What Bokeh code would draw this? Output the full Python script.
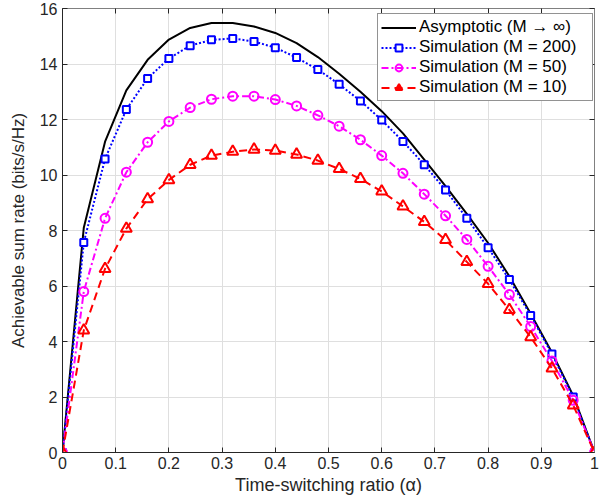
from bokeh.plotting import figure
from bokeh.models import Range1d, FixedTicker, LinearAxis, Legend, LegendItem, CustomJSTickFormatter
from bokeh.embed import file_html
from bokeh.resources import INLINE

alpha = [0, 0.04, 0.08, 0.12, 0.16, 0.2, 0.24, 0.28, 0.32, 0.36, 0.4, 0.44, 0.48,
         0.52, 0.56, 0.6, 0.64, 0.68, 0.72, 0.76, 0.8, 0.84, 0.88, 0.92, 0.96, 1]
rate_asym = [0, 8.1, 11.2, 13.05, 14.15, 14.88, 15.3, 15.48, 15.48, 15.35, 15.12, 14.75, 14.25,
             13.65, 13.0, 12.3, 11.5, 10.55, 9.6, 8.6, 7.55, 6.35, 5.0, 3.6, 2.05, 0]
rate_m200 = [0, 7.57, 10.58, 12.36, 13.48, 14.2, 14.66, 14.87, 14.92, 14.81, 14.59, 14.23, 13.8,
             13.27, 12.67, 11.98, 11.21, 10.37, 9.46, 8.44, 7.38, 6.23, 4.94, 3.55, 2.0, 0]
rate_m50 = [0, 5.8, 8.44, 10.1, 11.18, 11.93, 12.43, 12.73, 12.84, 12.84, 12.72, 12.49, 12.15,
            11.76, 11.27, 10.7, 10.06, 9.31, 8.53, 7.68, 6.71, 5.69, 4.54, 3.3, 1.88, 0]
rate_m10 = [0, 4.4, 6.62, 8.07, 9.13, 9.82, 10.37, 10.7, 10.84, 10.92, 10.88, 10.74, 10.52,
            10.22, 9.86, 9.41, 8.87, 8.31, 7.66, 6.87, 6.08, 5.14, 4.16, 3.03, 1.7, 0]

x_ticks = [0, 0.1, 0.2, 0.3, 0.4, 0.5, 0.6, 0.7, 0.8, 0.9, 1]
x_tick_labels = ["0", "0.1", "0.2", "0.3", "0.4", "0.5", "0.6", "0.7", "0.8", "0.9", "1"]
y_ticks = [0, 2, 4, 6, 8, 10, 12, 14, 16]

labels = ["Asymptotic (M \u2192 \u221e)", "Simulation (M = 200)",
          "Simulation (M = 50)", "Simulation (M = 10)"]

FONT = "Liberation Sans"
AX = "#262626"

p = figure(width=608, height=497, output_backend="svg", toolbar_location=None,
           x_range=Range1d(0, 1), y_range=Range1d(0, 16),
           min_border_left=62, min_border_right=14, min_border_top=8, min_border_bottom=45)
p.outline_line_color = None

for ax in (p.xaxis[0], p.yaxis[0]):
    ax.major_tick_in = 5
    ax.major_tick_out = 0
    ax.minor_tick_in = 0
    ax.minor_tick_out = 0
    ax.axis_line_color = AX
    ax.major_tick_line_color = AX
    ax.major_label_text_font = FONT
    ax.major_label_text_font_size = "16px"
    ax.major_label_text_color = AX
    ax.axis_label_text_font = FONT
    ax.axis_label_text_font_style = "normal"
    ax.axis_label_text_color = AX

p.xaxis.axis_label_text_font_size = "18px"
p.yaxis.axis_label_text_font_size = "17px"
p.xaxis.ticker = FixedTicker(ticks=x_ticks)
p.xaxis.major_label_overrides = {t: l for t, l in zip(x_ticks, x_tick_labels)}
p.yaxis.ticker = FixedTicker(ticks=y_ticks)
p.xaxis.axis_label = "Time-switching ratio (\u03b1)"
p.yaxis.axis_label = "Achievable sum rate (bits/s/Hz)"
p.xaxis.major_label_standoff = 4
p.yaxis.major_label_standoff = 5
p.xaxis.axis_label_standoff = 3
p.yaxis.axis_label_standoff = 9

blank = CustomJSTickFormatter(code="return ''")
top = LinearAxis(ticker=FixedTicker(ticks=x_ticks), formatter=blank)
right = LinearAxis(ticker=FixedTicker(ticks=y_ticks), formatter=blank)
for ax in (top, right):
    ax.major_tick_in = 5
    ax.major_tick_out = 0
    ax.minor_tick_in = 0
    ax.minor_tick_out = 0
    ax.axis_line_color = "#808080"
    ax.major_tick_line_color = AX
    ax.major_label_text_font_size = "1px"
    ax.major_label_standoff = 0
p.add_layout(top, "above")
p.add_layout(right, "right")

p.xgrid.ticker = FixedTicker(ticks=x_ticks)
p.ygrid.ticker = FixedTicker(ticks=y_ticks)
p.grid.grid_line_color = "#dfdfdf"
p.grid.grid_line_width = 1

r0 = p.line(alpha, rate_asym, line_color="black", line_width=2)

r1 = p.line(alpha, rate_m200, line_color="blue", line_width=2, line_dash="2 2")
s1 = p.scatter(alpha, rate_m200, marker="square", size=7, line_color="blue",
               fill_color="white", line_width=2)

r2 = p.line(alpha, rate_m50, line_color="magenta", line_width=2, line_dash="7 3 2 3")
s2 = p.scatter(alpha, rate_m50, marker="circle", size=9, line_color="magenta",
               fill_alpha=0, line_width=2)

r3 = p.line(alpha, rate_m10, line_color="red", line_width=2, line_dash="8 5")
s3 = p.scatter(alpha, rate_m10, marker="triangle", size=11, line_color="red",
               fill_alpha=0, line_width=2)

legend = Legend(items=[
    LegendItem(label=labels[0], renderers=[r0]),
    LegendItem(label=labels[1], renderers=[r1, s1]),
    LegendItem(label=labels[2], renderers=[r2, s2]),
    LegendItem(label=labels[3], renderers=[r3, s3]),
], location=(315, 351))
legend.label_text_font = FONT
legend.label_text_font_size = "17px"
legend.label_text_color = "black"
legend.border_line_color = "#262626"
legend.border_line_width = 1
legend.background_fill_color = "white"
legend.background_fill_alpha = 1
legend.margin = 0
legend.padding = 3
legend.spacing = 0
legend.label_height = 17
legend.label_width = 170
legend.glyph_height = 17
legend.glyph_width = 35
legend.label_standoff = 3
legend.label_text_line_height = 0.85
p.add_layout(legend)

open("out.html", "w").write(file_html(p, INLINE))
